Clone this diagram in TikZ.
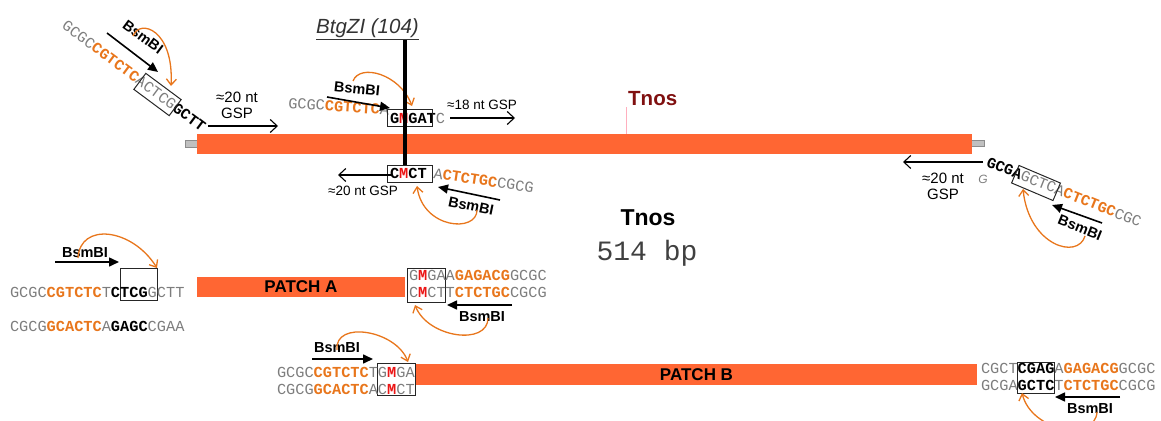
\documentclass[tikz,border=0pt]{standalone}
\usepackage{fontspec}
\setmainfont{Liberation Sans}
\setmonofont{Liberation Mono}
\usetikzlibrary{arrows.meta}
\definecolor{barorange}{RGB}{255,102,51}
\definecolor{seqorange}{RGB}{232,118,28}
\definecolor{seqgray}{RGB}{125,125,125}
\definecolor{seqred}{RGB}{235,20,20}
\definecolor{tnosred}{RGB}{128,16,16}
\definecolor{stubgray}{RGB}{192,192,192}
\definecolor{tickpink}{RGB}{255,175,190}
\newcommand\Sgr[1]{\textcolor{seqgray}{#1}}
\newcommand\Sor[1]{\textcolor{seqorange}{\bfseries #1}}
\newcommand\Sbk[1]{{\bfseries #1}}
\newcommand\Srd[1]{\textcolor{seqred}{\bfseries #1}}
\tikzset{
 seq/.style={font=\fontsize{15.3}{17}\ttfamily, inner sep=0pt, outer sep=0pt, anchor=base west},
 seqbox/.style={draw=black!85, line width=1pt, inner sep=0pt, outer sep=0pt},
 lbl/.style={font=\fontsize{13.5}{15}\selectfont, inner sep=0pt},
 lblbig/.style={font=\fontsize{15}{16}\selectfont, inner sep=0pt},
 bsm/.style={font=\fontsize{14.5}{16}\selectfont\bfseries, inner sep=0pt},
 gsparrow/.style={line width=1.1pt, -{Straight Barb[length=7pt,width=13pt]}},
 bsmarrow/.style={line width=1.6pt, -{Triangle[length=10pt,width=9pt]}},
 cutarrow/.style={draw=seqorange, line width=1.3pt, -{Straight Barb[length=6pt,width=10pt]}},
 bar/.style={fill=barorange, draw=none, inner sep=0pt, outer sep=0pt},
 stub/.style={fill=stubgray, draw=black!45, line width=0.5pt, inner sep=0pt, outer sep=0pt},
 patchlbl/.style={font=\fontsize{17}{19}\selectfont\bfseries, inner sep=0pt},
}
\begin{document}
\begin{tikzpicture}[x=1pt,y=-1pt]
\useasboundingbox (0,0) rectangle (1161,420);

% ---------- main Tnos construct ----------
\node[stub, minimum width=12pt, minimum height=7pt, anchor=east] (lstub) at (197.5,143.5) {};
\node[stub, minimum width=13pt, minimum height=6pt, anchor=west] (rstub) at (971.5,143) {};
\node[bar, minimum width=775pt, minimum height=20pt, anchor=north west] (tnosbar) at (197,134) {};
\node[anchor=base west, inner sep=0pt, font=\fontsize{20.5}{22}\selectfont\bfseries, text=tnosred] (tnoslbl) at (628,105) {Tnos};
\coordinate (tick) at (626,107);
\draw[tickpink, line width=0.8pt] (tick) -- (tick |- tnosbar.north);

\node[anchor=base west, inner sep=0pt, font=\fontsize{20.5}{22}\selectfont\itshape, text=black!80] (btg) at (316,34) {\underline{BtgZI (104)}};

% ---------- top-left primer ----------
\node[seq, rotate=-36.6] (tlseq) at (61,28) {\Sgr{GCGC}\Sor{CGTCTC}\Sgr{ACTCG}\Sbk{GCTT}};
\node[seqbox, rotate=-36.6, minimum width=44pt, minimum height=20pt] (tlbox) at (157.5,94.5) {};
\coordinate (tlbs) at (107,33); \coordinate (tlbe) at (158,72);
\draw[bsmarrow] (tlbs) -- (tlbe);
\node[bsm, rotate=-36.6] (tlbl) at (143,37) {BsmBI};
\coordinate (tlcs) at (133,36); \coordinate (tlce) at (171,86);
\draw[cutarrow] (tlcs) .. controls (140,18) and (174,30) .. (tlce);
\node[lblbig] (tlgspa) at (237,97) {≈20 nt};
\node[lblbig] (tlgspb) at (237,113) {GSP};
\coordinate (tlgs) at (208,126); \coordinate (tlge) at (278,126);
\draw[gsparrow] (tlgs) -- (tlge);

% ---------- top-middle primer ----------
\node[seq, rotate=-4] (tmseqa) at (288,108) {\Sgr{GCGC}\Sor{CGTCTC}\Sgr{A}};
\node[seq] (tmseqb) at (390,123) {\Sbk{G}\Srd{M}\Sbk{GAT}\Sgr{C}};
\node[seqbox, minimum width=45pt, minimum height=17pt, anchor=north west] (tmbox) at (387,109) {};
\coordinate (tmbs) at (327,97); \coordinate (tmbe) at (390,108);
\draw[bsmarrow] (tmbs) -- (tmbe);
\node[bsm, rotate=-6] (tmbl) at (357,89) {BsmBI};
\coordinate (tmcs) at (353,81); \coordinate (tmce) at (412,106);
\draw[cutarrow] (tmcs) .. controls (360,63) and (400,74) .. (tmce);
\node[lbl] (tmgsp) at (482,105) {≈18 nt GSP};
\coordinate (tmgs) at (450,118); \coordinate (tmge) at (515,118);
\draw[gsparrow] (tmgs) -- (tmge);

% ---------- BtgZI cut line ----------
\node[seqbox, minimum width=45pt, minimum height=17pt, anchor=north west] (lmbox) at (387,165) {};
\coordinate (cuttop) at (405,40);
\draw[line width=3.5pt] (cuttop) -- (cuttop |- lmbox.north);

% ---------- lower-middle primer ----------
\node[seq] (lmseqa) at (390,178) {\Sbk{C}\Srd{M}\Sbk{CT}};
\node[seq, rotate=-8.5] (lmseqb) at (433,178) {\Sgr{A}\Sor{CTCTGC}\Sgr{CGCG}};
\coordinate (lmgs) at (392,175); \coordinate (lmge) at (338,175);
\draw[gsparrow] (lmgs) -- (lmge);
\node[lbl] (lmgsp) at (363,191) {≈20 nt GSP};
\coordinate (lmbs) at (500,200); \coordinate (lmbe) at (438,187);
\draw[bsmarrow] (lmbs) -- (lmbe);
\node[bsm, rotate=-11.7] (lmbl) at (471,206) {BsmBI};
\coordinate (lmcs) at (477,210); \coordinate (lmce) at (417,186);
\draw[cutarrow] (lmcs) .. controls (477,233) and (423,229) .. (lmce);

% ---------- right primer ----------
\coordinate (rgs) at (983,162); \coordinate (rge) at (903,162);
\draw[gsparrow] (rgs) -- (rge);
\node[lblbig] (rgspa) at (943,178) {≈20 nt};
\node[lblbig] (rgspb) at (943,194) {GSP};
\node[inner sep=0pt, font=\fontsize{12}{13}\selectfont\itshape, text=seqgray] (rg) at (983,179) {G};
\node[seq, rotate=-21.8] (rseq) at (985.5,166) {\Sbk{GCGA}\Sgr{GCTCA}\Sor{CTCTGC}\Sgr{CGC}};
\node[seqbox, rotate=-23, minimum width=45pt, minimum height=19pt] (rbox) at (1036,183) {};
\coordinate (rbs) at (1102,223); \coordinate (rbe) at (1052,205);
\draw[bsmarrow] (rbs) -- (rbe);
\node[bsm, rotate=-22] (rbl) at (1080,228) {BsmBI};
\coordinate (rcs) at (1085,236); \coordinate (rce) at (1023,189);
\draw[cutarrow] (rcs) .. controls (1078,260) and (1029,246) .. (rce);

% ---------- centre label ----------
\node[anchor=base, inner sep=0pt, font=\fontsize{23}{25}\selectfont\bfseries] (tnosc) at (648,225) {Tnos};
\node[anchor=base, inner sep=0pt, font=\fontsize{28}{30}\ttfamily, text=black!75] (bp) at (647,260) {514 bp};

% ---------- bottom-left ----------
\node[bsm] (blbl) at (85,253) {BsmBI};
\coordinate (blbs) at (55,262); \coordinate (blbe) at (119,262);
\draw[bsmarrow] (blbs) -- (blbe);
\node[seqbox, minimum width=37pt, minimum height=32pt, anchor=north west] (blbox) at (120,268) {};
\coordinate (blcs) at (78,258);
\draw[cutarrow] (blcs) .. controls (80,222) and (132,228) .. (blbox.north east);
\node[seq] (blseqa) at (10,297) {\Sgr{GCGC}\Sor{CGTCTC}\Sgr{T}\Sbk{CTCG}\Sgr{GCTT}};
\node[seq] (blseqb) at (10,331) {\Sgr{CGCG}\Sor{GCACTC}\Sgr{A}\Sbk{GAGC}\Sgr{CGAA}};

% ---------- PATCH A ----------
\node[bar, minimum width=208pt, minimum height=20pt, anchor=north west] (patcha) at (197,277) {};
\node[patchlbl] (patchalbl) at (patcha.center) {PATCH A};
\node[seqbox, minimum width=38pt, minimum height=34pt, anchor=north west] (pabox) at (407,268) {};
\node[seq] (paseqa) at (409,280) {\Sgr{G}\Srd{M}\Sgr{GAA}\Sor{GAGACG}\Sgr{GCGC}};
\node[seq] (paseqb) at (409,297) {\Sgr{C}\Srd{M}\Sgr{CTT}\Sor{CTCTGC}\Sgr{CGCG}};
\coordinate (pabs) at (512,305); \coordinate (pabe) at (447,305);
\draw[bsmarrow] (pabs) -- (pabe);
\node[bsm] (pabl) at (482,317) {BsmBI};
\coordinate (pacs) at (488,318); \coordinate (pace) at (415,305);
\draw[cutarrow] (pacs) .. controls (488,346) and (428,338) .. (pace);

% ---------- bottom-middle ----------
\node[bsm] (bmbl) at (337,348) {BsmBI};
\coordinate (bmbs) at (312,359); \coordinate (bmbe) at (373,359);
\draw[bsmarrow] (bmbs) -- (bmbe);
\node[seqbox, minimum width=38pt, minimum height=32pt, anchor=north west] (bmbox) at (377,363) {};
\coordinate (bmcs) at (337,350); \coordinate (bmce) at (408,362);
\draw[cutarrow] (bmcs) .. controls (334,320) and (396,330) .. (bmce);
\node[seq] (bmseqa) at (277,377) {\Sgr{GCGC}\Sor{CGTCTC}\Sgr{TG}\Srd{M}\Sgr{GA}};
\node[seq] (bmseqb) at (277,394) {\Sgr{CGCG}\Sor{GCACTC}\Sgr{AC}\Srd{M}\Sgr{CT}};

% ---------- PATCH B ----------
\node[bar, minimum width=561pt, minimum height=21pt, anchor=north west] (patchb) at (416,364) {};
\node[patchlbl] (patchblbl) at (patchb.center) {PATCH B};

% ---------- bottom-right ----------
\node[seq] (brseqa) at (981,373.5) {\Sgr{CGCT}\Sbk{CGAG}\Sgr{A}\Sor{GAGACG}\Sgr{GCGC}};
\node[seq] (brseqb) at (981,390) {\Sgr{GCGA}\Sbk{GCTC}\Sgr{T}\Sor{CTCTGC}\Sgr{CGCG}};
\node[seqbox, minimum width=37pt, minimum height=31pt, anchor=north west] (brbox) at (1017,362) {};
\coordinate (brbs) at (1120,397); \coordinate (brbe) at (1055,397);
\draw[bsmarrow] (brbs) -- (brbe);
\node[bsm] (brbl) at (1090,409) {BsmBI};
\coordinate (brcs) at (1097,412); \coordinate (brce) at (1022,393);
\draw[cutarrow] (brcs) .. controls (1095,442) and (1032,432) .. (brce);
\end{tikzpicture}
\end{document}
